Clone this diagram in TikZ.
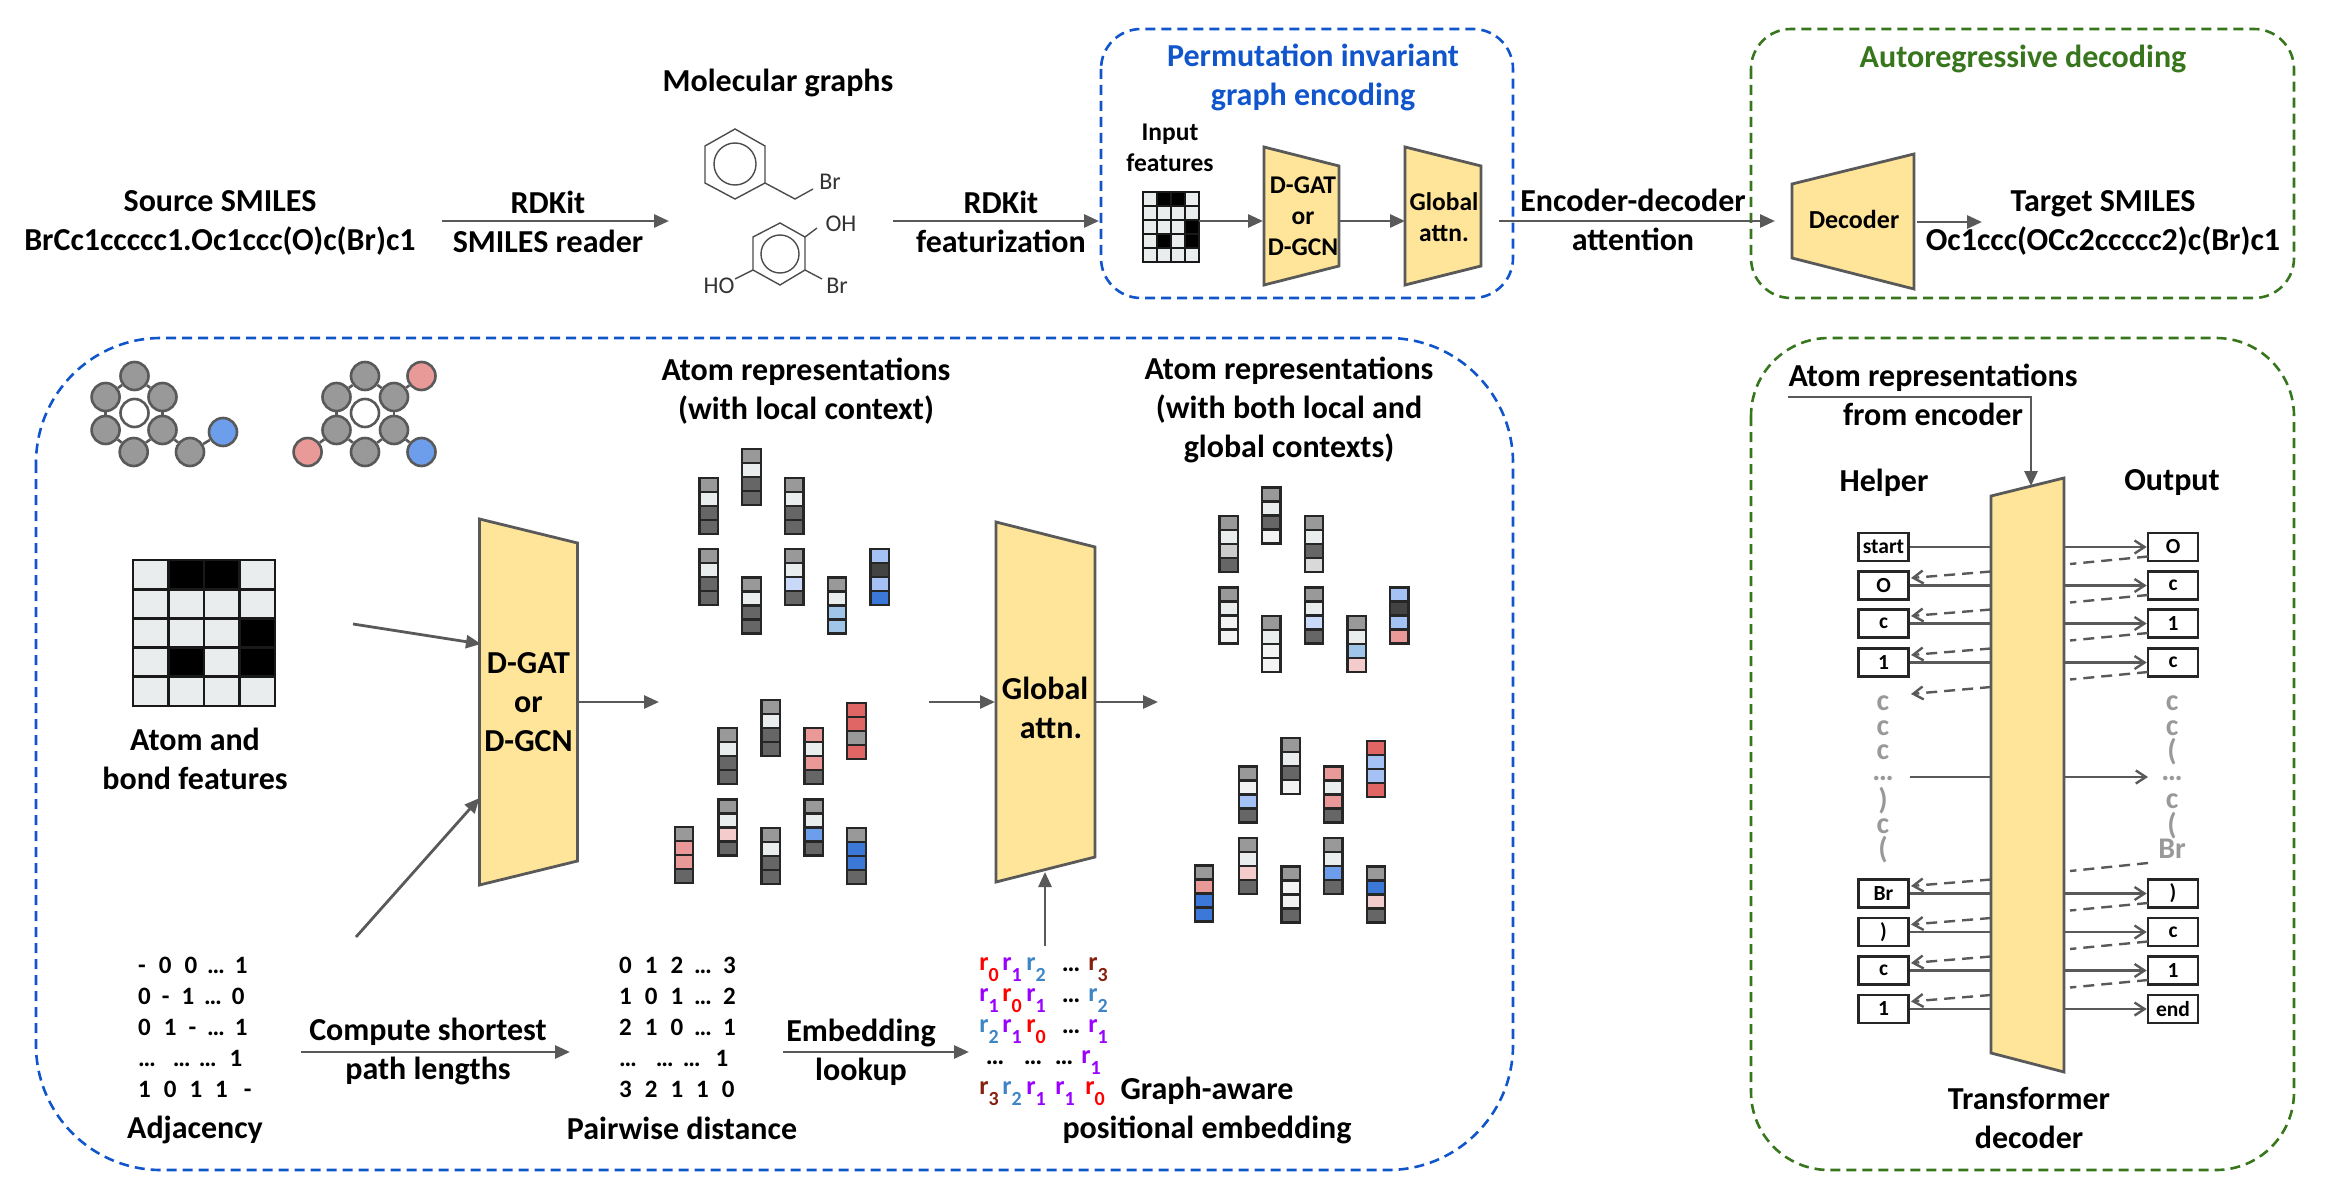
\documentclass[tikz,border=0pt]{standalone}
\usepackage{fontspec}
\setmainfont{Carlito}
\usetikzlibrary{arrows.meta,calc}
\definecolor{gline}{HTML}{595959}
\definecolor{cg}{HTML}{999999}
\definecolor{cw}{HTML}{E9EDED}
\definecolor{cd}{HTML}{666666}
\definecolor{cdd}{HTML}{434343}
\definecolor{ca}{HTML}{F3F3F3}
\definecolor{cb}{HTML}{CCCCCC}
\definecolor{cc}{HTML}{D9D9D9}
\definecolor{lb}{HTML}{C9DAF8}
\definecolor{mb}{HTML}{A4C2F4}
\definecolor{sb}{HTML}{9FC5E8}
\definecolor{nb}{HTML}{6D9EEB}
\definecolor{db}{HTML}{3C78D8}
\definecolor{lp}{HTML}{F4CCCC}
\definecolor{mp}{HTML}{EA9999}
\definecolor{dp}{HTML}{E06666}
\definecolor{trapc}{HTML}{FFE599}
\definecolor{bluebox}{HTML}{1155CC}
\definecolor{greenbox}{HTML}{38761D}
\definecolor{rred}{HTML}{FF0000}
\definecolor{rpur}{HTML}{9900FF}
\definecolor{rblu}{HTML}{3D85C6}
\definecolor{rdrk}{HTML}{85200C}
\newcommand\fs[2]{\fontsize{#1}{#2}\selectfont}
\tikzset{
  lab/.style={font=\fs{32}{39}\bfseries,align=center,inner sep=0pt},
  smalllab/.style={font=\fs{25.5}{31}\bfseries,align=center,inner sep=0pt},
  matlab/.style={font=\fs{25}{25}\bfseries,inner sep=0pt,anchor=west,text height=16pt,text depth=0pt},
  chem/.style={font=\fs{24}{24},inner sep=0pt,text=black!80},
  bond/.style={draw=black!70,line width=1.4pt},
  arr/.style={draw=gline,line width=2.8pt,-{Triangle[length=15pt,width=13pt]}},
  trap/.style={draw=gline,fill=trapc,line width=2.8pt,line join=miter},
  bluedash/.style={draw=bluebox,line width=2.6pt,dash pattern=on 10pt off 6pt},
  greendash/.style={draw=greenbox,line width=2.6pt,dash pattern=on 10pt off 6pt},
  atom/.style={circle,draw=gline,line width=2.6pt,minimum size=28pt,inner sep=0pt,fill=cg},
  bondg/.style={draw=gline,line width=2.6pt},
  tbox/.style={draw=black!85,line width=2.6pt,minimum width=50pt,minimum height=28pt,inner sep=0pt,fill=white,font=\fs{21.5}{21.5}\bfseries},
  solid line/.style={draw=gline,line width=2.4pt},
  sarr/.style={draw=gline,line width=2.4pt,-{Straight Barb[length=10pt,width=13pt,line width=2.4pt]}},
  dline/.style={draw=gline,line width=2.4pt,dash pattern=on 11pt off 7pt},
  darr/.style={dline,-{Straight Barb[length=10pt,width=13pt,line width=2.4pt]}},
  graytxt/.style={font=\fs{30}{30}\bfseries,text=black!40,inner sep=0pt},
  rtok/.style={font=\fs{26}{26}\bfseries,inner sep=0pt},
}
\newcommand\featbar[6]{%
  \foreach \cl [count=\ci from 0] in {#3,#4,#5,#6}{
    \fill[\cl] (#1-9.25,#2+14*\ci) rectangle (#1+9.25,#2+14*\ci+14);
    \draw[black!85,line width=2.4pt] (#1-9.25,#2+14*\ci) rectangle (#1+9.25,#2+14*\ci+14);
  }}
\newcommand\featmat[5]{% x y cellw cellh lw
  \foreach \rr in {0,...,4}\foreach \cc in {0,...,3}{
    \fill[cw] (#1+\cc*#3,#2+\rr*#4) rectangle (#1+\cc*#3+#3,#2+\rr*#4+#4);}
  \foreach \rr/\cc in {0/1,0/2,2/3,3/1,3/3}{
    \fill[black] (#1+\cc*#3,#2+\rr*#4) rectangle (#1+\cc*#3+#3,#2+\rr*#4+#4);}
  \foreach \rr in {0,...,4}\foreach \cc in {0,...,3}{
    \draw[black!90,line width=#5] (#1+\cc*#3,#2+\rr*#4) rectangle (#1+\cc*#3+#3,#2+\rr*#4+#4);}
}
\newcommand\rs[2]{\textcolor{#1}{r\raisebox{-0.42em}{\fs{20}{20}#2}}}
\newcommand\rA{\rs{rred}{0}}
\newcommand\rB{\rs{rpur}{1}}
\newcommand\rC{\rs{rblu}{2}}
\newcommand\rD{\rs{rdrk}{3}}
\begin{document}
\begin{tikzpicture}[x=1pt,y=-1pt]
\useasboundingbox (0,0) rectangle (2342,1190);
% dashed frames
\draw[bluedash,rounded corners=40pt] (1101,29) rectangle (1513,298);
\draw[greendash,rounded corners=40pt] (1751,29) rectangle (2294,298);
\draw[bluedash,rounded corners=125pt] (36,338) rectangle (1513,1170);
\draw[greendash,rounded corners=78pt] (1751,338) rectangle (2294,1170);
% top row text
\node[lab] (src) at (220,223) {Source SMILES\\BrCc1ccccc1.Oc1ccc(O)c(Br)c1};
\node[lab] (rd1) at (548,221.5) {RDKit\\SMILES reader};
\node[lab] (mg) at (778,83) {Molecular graphs};
\node[lab] (rd2) at (1001,221.5) {RDKit\\featurization};
\node[lab,text=bluebox] (pi) at (1313,77.5) {Permutation invariant\\graph encoding};
\node[lab,text=greenbox] (ar) at (2023,58.5) {Autoregressive decoding};
\node[lab] (ed) at (1633,220) {Encoder-decoder\\attention};
\node[lab] (tg) at (2103,223) {Target SMILES\\Oc1ccc(OCc2ccccc2)c(Br)c1};
\node[smalllab] (inf) at (1170,148) {Input\\features};
% molecule 1
\draw[bond] (735,129)--(765,146)--(765,183)--(735,199)--(705,183)--(705,146)--cycle;
\draw[bond] (735,164) circle (21);
\draw[bond] (765,183)--(795,199)--(813,189);
\node[chem] (br1) at (830,182) {Br};
% molecule 2
\draw[bond] (780,223)--(805,237)--(805,270)--(780,285)--(753,270)--(753,237)--cycle;
\draw[bond] (780,254) circle (19);
\draw[bond] (805,237)--(817,228);
\draw[bond] (753,270)--(735,279);
\draw[bond] (805,270)--(822,279);
\node[chem] (oh) at (841,224) {OH};
\node[chem] (ho) at (719,286) {HO};
\node[chem] (br2) at (837,286) {Br};
% top row pipeline
\featmat{1143}{192}{14}{14}{2.4pt}
\draw[trap] (1264,147)--(1339,166)--(1339,266)--(1264,285)--cycle;
\draw[trap] (1405,147)--(1481,166)--(1481,266)--(1405,285)--cycle;
\draw[trap] (1792,184)--(1914,154)--(1914,289)--(1792,258)--cycle;
\node[smalllab] (dgat1) at (1303,216) {D-GAT\\or\\D-GCN};
\node[smalllab] (glob1) at (1444,217) {Global\\attn.};
\node[smalllab,font=\fs{26}{26}\bfseries] (dec) at (1854,219) {Decoder};
\coordinate (a1s) at (442,221); \coordinate (a1e) at (669,221);
\coordinate (a2s) at (893,221); \coordinate (a2e) at (1099,221);
\coordinate (a3s) at (1199,221); \coordinate (a3e) at (1263,221);
\coordinate (a4s) at (1339,221); \coordinate (a4e) at (1405,221);
\coordinate (a5s) at (1499,221); \coordinate (a5e) at (1775,221);
\coordinate (a6s) at (1917,222); \coordinate (a6e) at (1982,222);
\foreach \i in {1,...,6}{\draw[arr] (a\i s)--(a\i e);}
% atom graphs
\foreach \n/\x/\y/\c in {ga/134.5/376/cg,gb/105.6/397/cg,gc/162.5/397/cg,gd/105.6/430/cg,ge/162.5/430/cg,gf/133.7/452/cg,gg/134.5/413/white,gh/190/452/cg,gi/223/432/nb,
  ha/365/376/cg,hb/336.5/397/cg,hc/394/397/cg,hd/336.5/430/cg,he/394/430/cg,hf/365/452/cg,hg/365/413/white,hh/421.5/376/mp,hi/307.6/452/mp,hj/421.5/452/nb}{
  \node[atom,fill=\c] (\n) at (\x,\y) {};}
\foreach \a/\b in {ga/gb,ga/gc,gb/gd,gc/ge,gd/gf,ge/gf,ge/gh,gh/gi,ha/hb,ha/hc,hb/hd,hc/he,hd/hf,he/hf,hc/hh,hd/hi,he/hj}{
  \draw[bondg] (\a)--(\b);}
% big matrix
\featmat{133}{560}{35.5}{29.2}{2.8pt}
\node[lab] (abf) at (195,758.5) {Atom and\\bond features};
% big traps
\draw[trap] (479.5,519)--(577.5,543)--(577.5,861)--(479.5,885)--cycle;
\draw[trap] (996,522)--(1095,547)--(1095,857)--(996,882)--cycle;
\node[lab] (dgat2) at (528.5,702) {D-GAT\\or\\D-GCN};
\node[lab] (glob2) at (1045,708) {Global\\\hspace{12pt}attn.};
\coordinate (b1s) at (353,624); \coordinate (b1e) at (481,644);
\coordinate (b2s) at (356,937); \coordinate (b2e) at (479.5,798);
\coordinate (b3s) at (577.5,702); \coordinate (b3e) at (659,702);
\coordinate (b4s) at (929,702); \coordinate (b4e) at (995,702);
\coordinate (b5s) at (1095,702); \coordinate (b5e) at (1158,702);
\coordinate (b6s) at (1045,946); \coordinate (b6e) at (1045,872);
\coordinate (b7s) at (301,1052); \coordinate (b7e) at (570,1052);
\coordinate (b8s) at (783,1052); \coordinate (b8e) at (969,1052);
\foreach \i in {1,...,8}{\draw[arr] (b\i s)--(b\i e);}
% bars group 1
\featbar{708.6}{478}{cg}{cw}{cd}{cd}
\featbar{751.5}{449}{cg}{cw}{cd}{cd}
\featbar{794.4}{478}{cg}{cw}{cd}{cd}
\featbar{708.6}{549}{cg}{cw}{cd}{cd}
\featbar{751.5}{577.5}{cg}{cw}{cd}{cd}
\featbar{794.4}{549}{cg}{cw}{lb}{cd}
\featbar{837}{577.5}{cg}{cw}{sb}{sb}
\featbar{879.8}{549}{mb}{cdd}{mb}{db}
% group 2
\featbar{727.7}{728}{cg}{cw}{cd}{cd}
\featbar{770.6}{700}{cg}{cw}{cd}{cd}
\featbar{813.6}{728}{mp}{cw}{mp}{cd}
\featbar{856.5}{703}{dp}{dp}{cg}{dp}
\featbar{727.7}{799.5}{cg}{cw}{lp}{cd}
\featbar{813.6}{799.5}{cg}{cw}{nb}{cd}
\featbar{684}{827}{cg}{mp}{mp}{cd}
\featbar{770.6}{828}{cg}{cw}{cd}{cd}
\featbar{856.5}{828}{cg}{db}{db}{cd}
% group 3
\featbar{1228.7}{516}{cg}{cw}{cb}{cd}
\featbar{1271.3}{487.5}{cg}{cw}{cd}{ca}
\featbar{1314}{516}{cg}{cw}{cd}{cc}
\featbar{1228.7}{587.5}{cg}{cw}{ca}{ca}
\featbar{1271.3}{616}{cg}{cw}{ca}{ca}
\featbar{1314}{587.5}{cg}{cw}{lb}{cd}
\featbar{1356.7}{616}{cg}{cw}{sb}{lp}
\featbar{1399.3}{587.5}{mb}{cdd}{mb}{mp}
% group 4
\featbar{1290.7}{738}{cg}{cw}{cd}{ca}
\featbar{1248}{766.5}{cg}{ca}{mb}{cd}
\featbar{1333.3}{766.5}{mp}{cw}{mp}{cd}
\featbar{1376}{741}{dp}{mb}{mb}{dp}
\featbar{1248}{838}{cg}{cw}{lp}{cd}
\featbar{1333.3}{838}{cg}{cw}{nb}{cd}
\featbar{1204}{865.5}{cg}{mp}{db}{db}
\featbar{1290.7}{866.5}{cg}{ca}{ca}{cd}
\featbar{1376}{866.5}{cg}{db}{lp}{cd}
% bottom labels
\node[lab] (ar1) at (806,391) {Atom representations\\(with local context)};
\node[lab] (ar2) at (1289,410) {Atom representations\\(with both local and\\global contexts)};
\node[lab] (adj) at (195,1130) {Adjacency};
\node[lab] (csp) at (428,1051) {Compute shortest\\path lengths};
\node[lab] (pd) at (682,1128) {Pairwise distance};
\node[lab] (emb) at (861,1052) {Embedding\\lookup};
\node[lab] (gape) at (1207,1110) {Graph-aware\\positional embedding};
% adjacency
\begin{scope}[every node/.append style={matlab}]
\node (ad1) at (138,965) {-\hspace{13pt}0\hspace{13pt}0\hspace{10pt}…\hspace{10pt}1};
\node (ad2) at (138,996) {0\hspace{11pt}-\hspace{12pt}1\hspace{10pt}…\hspace{10pt}0};
\node (ad3) at (138,1027) {0\hspace{13pt}1\hspace{12pt}-\hspace{11pt}…\hspace{10pt}1};
\node (ad4) at (138,1058) {…\hspace{17pt}…\hspace{8pt}…\hspace{13pt}1};
\node (ad5) at (138,1089) {1\hspace{13pt}0\hspace{13pt}1\hspace{13pt}1\hspace{16pt}-};
\node (pd1) at (619,965) {0\hspace{13pt}1\hspace{13pt}2\hspace{11pt}…\hspace{11pt}3};
\node (pd2) at (619,996) {1\hspace{13pt}0\hspace{13pt}1\hspace{11pt}…\hspace{11pt}2};
\node (pd3) at (619,1027) {2\hspace{13pt}1\hspace{13pt}0\hspace{11pt}…\hspace{11pt}1};
\node (pd4) at (619,1058) {…\hspace{19pt}…\hspace{9pt}…\hspace{15pt}1};
\node (pd5) at (619,1089) {3\hspace{13pt}2\hspace{13pt}1\hspace{13pt}1\hspace{13pt}0};
\end{scope}
% r matrix
\foreach \x/\t [count=\k] in {989/\rA,1012/\rB,1036/\rC,1071/…,1098/\rD}{\node[rtok] (ra\k) at (\x,970) {\t};}
\foreach \x/\t [count=\k] in {989/\rB,1012/\rA,1036/\rB,1071/…,1098/\rC}{\node[rtok] (rb\k) at (\x,1001) {\t};}
\foreach \x/\t [count=\k] in {989/\rC,1012/\rB,1036/\rA,1071/…,1098/\rB}{\node[rtok] (rc\k) at (\x,1032) {\t};}
\foreach \x/\t [count=\k] in {995/…,1033/…,1064/…,1091/\rB}{\node[rtok] (rd\k) at (\x,1063) {\t};}
\foreach \x/\t [count=\k] in {989/\rD,1012/\rC,1036/\rB,1065/\rB,1095/\rA}{\node[rtok] (re\k) at (\x,1094) {\t};}
% transformer decoder
\draw[trap] (1991,496)--(2064,478)--(2064,1072)--(1991,1053)--cycle;
\node[lab] (are) at (1933,394.5) {Atom representations\\from encoder};
\coordinate (ts) at (1788,397); \coordinate (tc) at (2031,397); \coordinate (te) at (2031,486);
\draw[arr] (ts)--(tc)--(te);
\node[lab] (hlp) at (1884,483) {Helper};
\node[lab] (out) at (2172,483) {Output};
\node[lab] (tfd) at (2029,1118) {Transformer\\decoder};
\foreach \n/\y/\t/\u in {1/547/start/O,2/585.5/O/c,3/623.5/c/1,4/662.5/1/c,5/893.5/Br/),6/932/)/c,7/970.5/c/1,8/1009/1/end}{
  \node[tbox] (h\n) at (1883.5,\y) {\t};
  \node[tbox] (o\n) at (2173,\y) {\u};
  \coordinate (hl\n) at (1991,\y);
  \coordinate (or\n) at (2064,\y);
  \draw[solid line] (h\n.east)--(hl\n);
  \draw[sarr] (or\n)--(o\n.west);
}
\foreach \n/\y in {2/585.5,3/623.5,4/662.5,5/893.5,6/932,7/970.5,8/1009}{
  \coordinate (ds\n) at (1991,\y-14);
  \coordinate (de\n) at (1911,\y-7.5);
  \draw[darr] (ds\n)--(de\n);
}
\foreach \n/\y in {1/547,2/585.5,3/623.5,4/662.5,5/893.5,6/932,7/970.5}{
  \coordinate (rs\n) at (2148,\y+9.5);
  \coordinate (re\n) at (2070,\y+17);
  \draw[dline] (rs\n)--(re\n);
}
\coordinate (xds) at (1991,687); \coordinate (xde) at (1911,694); \draw[darr] (xds)--(xde);
\coordinate (yds) at (2148,863); \coordinate (yde) at (2070,871); \draw[dline] (yds)--(yde);
\coordinate (m1s) at (1910,777); \coordinate (m1e) at (1991,777); \draw[solid line] (m1s)--(m1e);
\coordinate (m2s) at (2064,777); \coordinate (m2e) at (2148,777); \draw[sarr] (m2s)--(m2e);
\foreach \y/\t [count=\k] in {703/c,728/c,752/c,778/…,801/),826/c,850/(}{\node[graytxt] (gl\k) at (1883,\y) {\t};}
\foreach \y/\t [count=\k] in {703/c,728/c,752/(,778/…,801/c,826/(,849/Br}{\node[graytxt] (gr\k) at (2172,\y) {\t};}
\end{tikzpicture}
\end{document}
